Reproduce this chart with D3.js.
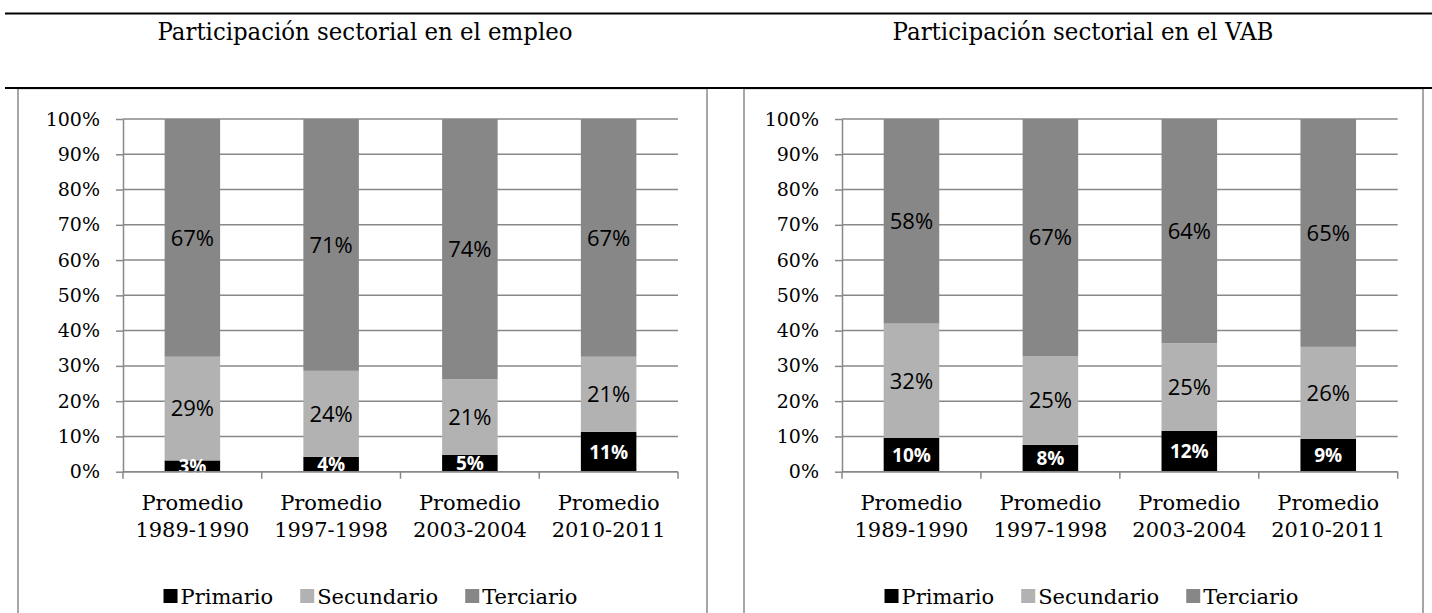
<!DOCTYPE html>
<html>
<head>
<meta charset="utf-8">
<script src="https://cdn.jsdelivr.net/npm/d3@7"></script>
<style>
  body { margin: 0; background: #fff; }
  .serif { font-family: "DejaVu Serif", Georgia, serif; fill: #000; }
  .lbl { font-family: "Open Sans", "DejaVu Sans", sans-serif; }
</style>
</head>
<body>
<svg id="chart" width="1432" height="613"></svg>
<script>
// --- data ---
var periodos = [["Promedio", "1989-1990"], ["Promedio", "1997-1998"], ["Promedio", "2003-2004"], ["Promedio", "2010-2011"]];
var sectores = ["Primario", "Secundario", "Terciario"];
var colores = ["#000000", "#b2b2b2", "#878787"];
var yTicks = [0, 10, 20, 30, 40, 50, 60, 70, 80, 90, 100];

var empleoPrimario = [3.2, 4.2, 4.8, 11.3],
	empleoSecundario = [29.4, 24.4, 21.4, 21.3],
	empleoTerciario = [67.4, 71.4, 73.8, 67.4];

var vabPrimario = [9.6, 7.6, 11.6, 9.3],
	vabSecundario = [32.4, 25.2, 24.8, 26.1],
	vabTerciario = [58.0, 67.2, 63.6, 64.6];

var svg = d3.select("#chart"),
	gridColor = "#888888",
	serifFont = "'DejaVu Serif', Georgia, serif",
	yTop = 119,
	yBottom = 471.7;

// panels: box edges and plot area
var panels = [
	{ title: "Participación sectorial en el empleo", titleX: 365, titleW: 415, box: [18, 707], plot: [123, 678],
	  series: [empleoPrimario, empleoSecundario, empleoTerciario] },
	{ title: "Participación sectorial en el VAB", titleX: 1083, titleW: 381, box: [744, 1423], plot: [842, 1397.7],
	  series: [vabPrimario, vabSecundario, vabTerciario] }
];

panels.forEach(function(p) {
	var g = svg.append("g");

	// chart frame
	g.append("rect")
		.attr("x", p.box[0]).attr("y", 88.5)
		.attr("width", p.box[1] - p.box[0]).attr("height", 560)
		.attr("fill", "none").attr("stroke", "#8a8a8a").attr("stroke-width", 1.5);

	// title (condensed like the original)
	svg.append("text")
		.attr("class", "serif")
		.attr("x", p.titleX).attr("y", 40)
		.attr("text-anchor", "middle")
		.attr("textLength", p.titleW)
		.attr("lengthAdjust", "spacingAndGlyphs")
		.style("font-size", "25px")
		.text(p.title);

	var x = d3.scaleBand()
		.domain(d3.range(periodos.length))
		.range(p.plot)
		.paddingInner(0.6)
		.paddingOuter(0.3);

	var y = d3.scaleLinear().domain([0, 100]).range([yBottom, yTop]);

	// gridlines
	g.selectAll(".grid").data(yTicks).enter().append("line")
		.attr("x1", p.plot[0]).attr("x2", p.plot[1])
		.attr("y1", function(d) { return y(d); }).attr("y2", function(d) { return y(d); })
		.attr("stroke", gridColor).attr("stroke-width", 1.5);

	// y axis
	var yAxis = g.append("g")
		.attr("transform", "translate(" + p.plot[0] + ",0)")
		.call(d3.axisLeft(y).tickValues(yTicks).tickSize(7).tickSizeOuter(0).tickPadding(16)
			.tickFormat(function(d) { return d + "%"; }));
	yAxis.attr("font-family", null).attr("font-size", null);
	yAxis.select(".domain").attr("stroke", gridColor).attr("stroke-width", 1.5);
	yAxis.selectAll(".tick line").attr("stroke", gridColor).attr("stroke-width", 1.5);
	yAxis.selectAll(".tick text")
		.attr("fill", "#000")
		.style("font-family", serifFont)
		.style("font-size", "19px");

	// stacked bars
	var rows = periodos.map(function(c, i) {
		var r = { i: i };
		sectores.forEach(function(s, k) { r[s] = p.series[k][i]; });
		return r;
	});
	var stacked = d3.stack().keys(sectores)(rows);

	var layer = g.selectAll(".layer").data(stacked).enter().append("g")
		.attr("fill", function(d, k) { return colores[k]; });

	layer.selectAll("rect").data(function(d) { return d; }).enter().append("rect")
		.attr("x", function(d) { return x(d.data.i); })
		.attr("width", x.bandwidth())
		.attr("y", function(d) { return y(d[1]); })
		.attr("height", function(d) { return y(d[0]) - y(d[1]); });

	// data labels
	stacked.forEach(function(s, k) {
		g.selectAll(".lbl" + k).data(s).enter().append("text")
			.attr("class", "lbl")
			.attr("x", function(d) { return x(d.data.i) + x.bandwidth() / 2; })
			.attr("y", function(d) { return (y(d[0]) + y(d[1])) / 2; })
			.attr("dy", "0.36em")
			.attr("text-anchor", "middle")
			.attr("fill", k === 0 ? "#fff" : "#000")
			.style("font-weight", k === 0 ? "bold" : "normal")
			.style("font-size", k === 0 ? "19px" : "22px")
			.text(function(d) { return Math.round(d.data[s.key]) + "%"; });
	});

	// category axis
	g.append("line")
		.attr("x1", p.plot[0]).attr("x2", p.plot[1])
		.attr("y1", yBottom).attr("y2", yBottom)
		.attr("stroke", gridColor).attr("stroke-width", 1.5);

	var half = (x.step() - x.bandwidth()) / 2;
	var bounds = d3.range(periodos.length + 1).map(function(i) {
		return i < periodos.length ? x(i) - half : x(i - 1) + x.bandwidth() + half;
	});
	g.selectAll(".xtick").data(bounds).enter().append("line")
		.attr("x1", function(d) { return d; }).attr("x2", function(d) { return d; })
		.attr("y1", yBottom).attr("y2", yBottom + 7)
		.attr("stroke", gridColor).attr("stroke-width", 1.5);

	var cat = g.selectAll(".cat").data(periodos).enter().append("text")
		.attr("class", "serif")
		.attr("text-anchor", "middle")
		.style("font-size", "21px");
	cat.each(function(d, i) {
		var t = d3.select(this), cx = x(i) + x.bandwidth() / 2;
		t.append("tspan").attr("x", cx).attr("y", 509.5).text(d[0]);
		t.append("tspan").attr("x", cx).attr("y", 537).text(d[1]);
	});

	// legend
	var leg = g.append("g");
	var pos = 0;
	sectores.forEach(function(s, k) {
		leg.append("rect")
			.attr("x", pos).attr("y", 589).attr("width", 14).attr("height", 14)
			.attr("fill", colores[k]);
		var t = leg.append("text")
			.attr("class", "serif")
			.attr("x", pos + 17).attr("y", 603.5)
			.style("font-size", "21px")
			.text(s);
		pos += 17 + t.node().getComputedTextLength() + 27;
	});
	var legW = pos - 27;
	leg.attr("transform", "translate(" + ((p.box[0] + p.box[1]) / 2 + 8 - legW / 2) + ",0)");
});

// horizontal rules
[13.5, 88].forEach(function(yy) {
	svg.append("line")
		.attr("x1", 5).attr("x2", 1432)
		.attr("y1", yy).attr("y2", yy)
		.attr("stroke", "#000").attr("stroke-width", 2.2);
});
</script>
</body>
</html>
